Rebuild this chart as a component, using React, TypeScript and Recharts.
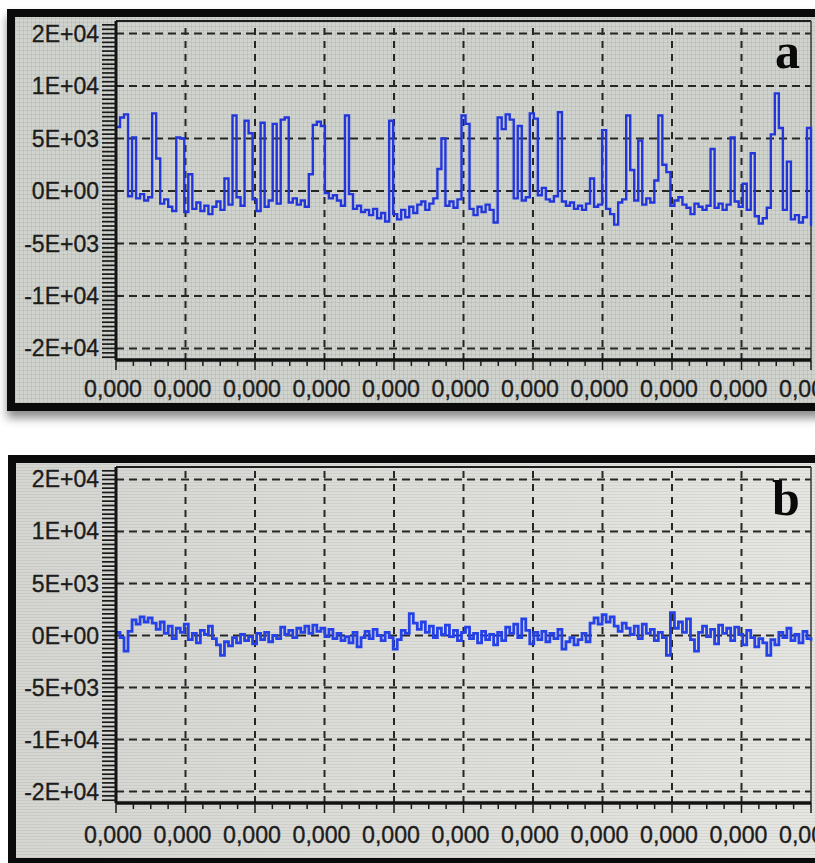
import React from 'react';
import { LineChart, Line, XAxis, YAxis, ReferenceLine } from 'recharts';

// y axis of the scope is not linear: labels sit on equally spaced grid lines
const yTickValues = [-20000, -10000, -5000, 0, 5000, 10000, 20000];
const yTickLabels = ['-2E+04', '-1E+04', '-5E+03', '0E+00', '5E+03', '1E+04', '2E+04'];
const xTickLabel = '0,000';
const xDivisions = 10;

// trace a: baseline with many spikes
const signalA = [
  6100, 7000, 7300, -500, 5100, -700, -300, -900, -600, 7400,
  3100, -1200, -800, -1500, -1900, 5100, 5000, -2000, 1600, -1700,
  -1100, -1900, -1400, -2200, -1500, -1000, -1800, 1200, -1300, 7200,
  -600, -1400, 6700, 5500, -800, -1900, 6500, -1500, -900, 6400,
  -1200, 6800, 7000, -1100, -700, -1300, -900, -1500, 1600, 6300,
  6600, 6200, -200, -700, -400, -900, -1400, 7200, -300, -1700,
  -1400, -2000, -1800, -2300, -1700, -2600, -2100, -2900, 6700, -2200,
  -2700, -1800, -2500, -1500, -2100, -1300, -1000, -1800, -1200, -700,
  2100, 5000, -1400, -1000, -1600, -800, 7200, 6400, -1700, -2300,
  -1500, -2000, -1300, -1800, -3000, 7000, 5900, 7300, 6800, -700,
  6200, -900, -600, 7400, 6900, -400, 300, -800, -1000, -500,
  7500, -1000, -1400, -1100, -1700, -1400, -1800, -1200, 1200, -1500,
  -1300, 5800, -1700, -2200, -3200, -1100, -800, 7200, 2000, -900,
  4800, -1300, -700, -1100, 1000, 7200, 2500, 1800, -1400, -900,
  -600, -1300, -1600, -2200, -1200, -1500, -1800, -1400, 4000, -1600,
  -1200, -1800, -1300, 5100, -1000, -1500, 700, -1800, 3600, -2400,
  -3100, -2600, -1600, 5400, 9300, 6000, -1800, 2800, -2700, -2300,
  -3000, -2500, 6000, -3300,
];

// trace b: noise only
const signalB = [
  300, -200, -1500, 400, 1500, 1100, 1800, 1300, 1700, 1200,
  600, 1300, 200, 900, -300, 700, 300, 1100, -400, 200,
  -700, 500, 100, 900, -300, -900, -1900, -600, -1000, -200,
  -700, 100, -500, -100, -800, 200, -400, 300, -600, 0,
  -300, 800, 100, 500, -200, 700, 300, 900, 200, 1000,
  400, 700, -100, 600, -300, 200, -500, -100, -700, 300,
  -1100, -200, 400, -300, 600, 0, -500, 300, -200, -1300,
  -400, 500, 200, 2100, 1200, 600, 1300, 300, 900, -200,
  700, 100, 1000, -100, 500, -500, 300, 800, -300, 200,
  -700, 400, -400, 100, -900, 300, -500, 800, 200, 1100,
  -200, 1600, 500, -800, 300, -400, 400, -600, 200, -300,
  600, -1300, -600, -200, -900, -400, 200, -600, 1200, 1700,
  1100, 2000, 1300, 1800, 900, 400, 1200, 700, 100, 900,
  -300, 1100, 200, 600, -500, 300, -200, -1900, 2200, 700,
  1300, 300, 1600, -400, -1500, 300, 900, -100, 600, -800,
  1000, 200, 700, -500, 800, 100, -900, 500, -200, -1100,
  -300, -700, -1900, -400, -900, 300, -200, 700, -500, 100,
  -700, 400, -300, -500,
];

// value -> grid position (-3..3), linear between labelled grid lines
const toGrid = (v: number) => {
  const n = yTickValues.length;
  for (let k = 0; k < n - 1; k++) {
    if (v <= yTickValues[k + 1] || k === n - 2) {
      return k - 3 + (v - yTickValues[k]) / (yTickValues[k + 1] - yTickValues[k]);
    }
  }
  return 0;
};

const buildRows = (vals: number[]) =>
  vals.map((v, i) => ({ t: (i * xDivisions) / (vals.length - 1), v: toGrid(v) }));

const rowsA = buildRows(signalA);
const rowsB = buildRows(signalB);

const Y_MIN = -3.22;
const Y_MAX = 3.24;
const majorY = [-3, -2, -1, 0, 1, 2, 3];
const yTicks: number[] = [];
for (let k = -38; k <= 38; k++) yTicks.push(k / 12);
const xTicks: number[] = [];
for (let k = 0; k <= xDivisions * 4; k++) xTicks.push(k / 4);
const verticals = [1, 2, 3, 4, 5, 6, 7, 8, 9];

const FONT = '"Liberation Sans", Arial, sans-serif';

const YTick = (props: any) => {
  const { x, y, payload } = props;
  const v = payload.value;
  const major = Number.isInteger(v);
  return (
    <g>
      <line x1={x - 14} x2={x} y1={y} y2={y} stroke="#1a1a1a" strokeWidth={1.7} />
      {major && (
        <text
          x={x - 17}
          y={y}
          textAnchor="end"
          dominantBaseline="central"
          fontSize={23}
          fill="#1c1c1c"
          stroke="#1c1c1c"
          strokeWidth={0.35}
          fontFamily={FONT}
        >
          {yTickLabels[v + 3]}
        </text>
      )}
    </g>
  );
};

const XTick = (props: any) => {
  const { x, y, payload, labelOffset } = props;
  const major = Number.isInteger(payload.value);
  return (
    <g>
      <line x1={x} x2={x} y1={y} y2={y + (major ? 10 : 6)} stroke="#1a1a1a" strokeWidth={1.5} />
      {major && (
        <text
          x={x - 3}
          y={y + labelOffset}
          textAnchor="middle"
          dominantBaseline="central"
          fontSize={23}
          textLength={58}
          lengthAdjust="spacingAndGlyphs"
          fill="#1c1c1c"
          stroke="#1c1c1c"
          strokeWidth={0.35}
          fontFamily={FONT}
        >
          {xTickLabel}
        </text>
      )}
    </g>
  );
};

interface ScopeProps {
  rows: { t: number; v: number }[];
  stroke: string;
  strokeWidth: number;
  height: number;
  labelOffset: number;
}

const Scope = ({ rows, stroke, strokeWidth, height, labelOffset }: ScopeProps) => (
  <LineChart width={870} height={height} data={rows} margin={{ top: 21, right: 59, bottom: 0, left: 0 }}>
    <XAxis
      dataKey="t"
      type="number"
      domain={[0, xDivisions]}
      ticks={xTicks}
      interval={0}
      height={60}
      tickSize={0}
      tickMargin={0}
      tickLine={false}
      axisLine={{ stroke: '#111', strokeWidth: 3.5 }}
      tick={(p: any) => <XTick {...p} labelOffset={labelOffset} />}
    />
    <YAxis
      type="number"
      domain={[Y_MIN, Y_MAX]}
      ticks={yTicks}
      interval={0}
      width={116}
      tickSize={0}
      tickMargin={0}
      tickLine={false}
      axisLine={{ stroke: '#111', strokeWidth: 3 }}
      tick={YTick}
    />
    {majorY.map((v) => (
      <ReferenceLine key={'h' + v} y={v} stroke="#262626" strokeWidth={2} strokeDasharray="8 5" />
    ))}
    {verticals.map((v) => (
      <ReferenceLine key={'v' + v} x={v} stroke="#262626" strokeWidth={2} strokeDasharray="7 6" />
    ))}
    <ReferenceLine y={Y_MAX} stroke="#1e1e1e" strokeWidth={2} />
    <ReferenceLine x={xDivisions} stroke="#3a3a3a" strokeWidth={1.5} />
    <Line type="stepAfter" dataKey="v" stroke={stroke} strokeWidth={strokeWidth} dot={false} isAnimationActive={false} />
  </LineChart>
);

const textureA =
  'repeating-linear-gradient(90deg, rgba(70,80,70,0.10) 0 1px, transparent 1px 4px), ' +
  'repeating-linear-gradient(0deg, rgba(70,80,70,0.10) 0 1px, transparent 1px 4px), #d1d4ce';
const textureB =
  'repeating-linear-gradient(0deg, rgba(60,60,60,0.08) 0 1px, transparent 1px 3px), ' +
  'linear-gradient(90deg, #d5d6d2, #dfdfdb 60%, #e6e6e2)';

const App = () => {
  return (
    <div style={{ position: 'fixed', left: 0, top: 0, width: 815, height: 863, overflow: 'hidden', background: '#fff' }}>
      <div
        style={{
          position: 'absolute', left: 7, top: 9, width: 840, height: 402, boxSizing: 'border-box',
          border: '8px solid #0b0b0b', background: textureA, boxShadow: '0 7px 9px rgba(0,0,0,0.45)',
        }}
      />
      <div
        style={{
          position: 'absolute', left: 8, top: 455, width: 840, height: 411, boxSizing: 'border-box',
          border: '8px solid #0b0b0b', background: textureB,
        }}
      />
      <div style={{ position: 'absolute', left: 0, top: 0 }}>
        <Scope rows={rowsA} stroke="#2236dc" strokeWidth={2.4} height={420} labelOffset={29} />
      </div>
      <div style={{ position: 'absolute', left: 0, top: 446 }}>
        <Scope rows={rowsB} stroke="#2541e8" strokeWidth={2.8} height={417} labelOffset={32} />
      </div>
      <svg width={815} height={863} style={{ position: 'absolute', left: 0, top: 0, pointerEvents: 'none' }}>
        <text x={775} y={68} fontSize={50} fontWeight="bold" fontFamily='"Liberation Serif", "Times New Roman", serif' fill="#0a0a0a">a</text>
        <text x={772} y={515} fontSize={50} fontWeight="bold" fontFamily='"Liberation Serif", "Times New Roman", serif' fill="#0a0a0a">b</text>
      </svg>
    </div>
  );
};

export default App;
